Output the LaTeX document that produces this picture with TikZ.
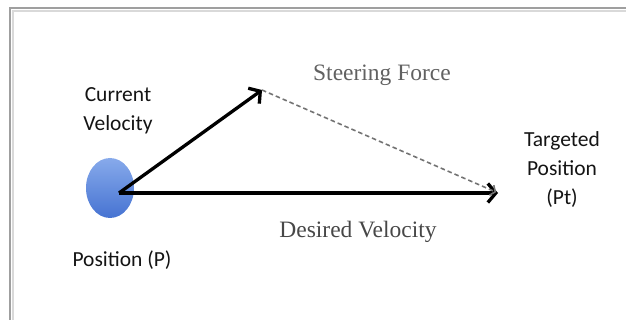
\documentclass[tikz,border=0pt]{standalone}
\usepackage{fontspec}
\newfontfamily\sansfnt{Carlito}
\newfontfamily\seriffnt{Liberation Serif}
\usetikzlibrary{arrows.meta, shapes.geometric}
\definecolor{balltop}{RGB}{135,170,235}
\definecolor{ballbot}{RGB}{70,115,210}

\begin{document}
\begin{tikzpicture}[x=1pt,y=-1pt,
    lbl/.style={align=center,text=black!92,font=\sansfnt\fontsize{21.5}{29}\selectfont},
    slbl/.style={text=black!72,font=\seriffnt\fontsize{23.5}{28}\selectfont},
    vec/.style={line width=3.3pt,-{Straight Barb[length=8pt,width=19pt,line width=3.3pt]}},
    force/.style={gray!90!black,line width=1.6pt,dash pattern=on 4.5pt off 3pt,
      -{Straight Barb[length=4pt,width=11pt,line width=1.6pt]}}]
    \useasboundingbox (0,0) rectangle (626,320);
    % frame
    \draw[gray!30,line width=2pt] (13,320)--(13,11)--(626,11);
    \draw[gray!75,line width=1.6pt] (10,320)--(10,8)--(626,8);

    % ball and points
    \node[ellipse,minimum width=48pt,minimum height=60pt,inner sep=0pt,
      top color=balltop,bottom color=ballbot,draw=none] (P) at (110,188) {};
    \coordinate (p0) at (119,193);
    \coordinate (cv) at (262,90);
    \coordinate (pt) at (498,193);

    \draw[vec] (p0)--(cv);
    \draw[vec] (p0)--(pt);
    \draw[force,shorten >=2pt] (cv)--(pt);

    % labels
    \node[lbl] (curvel) at (118,111) {Current\\Velocity};
    \node[slbl,text=black!62] (steer) at (382,75) {Steering Force};
    \node[lbl] (target) at (562,170) {Targeted\\Position\\(Pt)};
    \node[slbl] (desvel) at (358,232) {Desired Velocity};
    \node[lbl] (pos) at (122,260) {Position (P)};
\end{tikzpicture}
\end{document}
